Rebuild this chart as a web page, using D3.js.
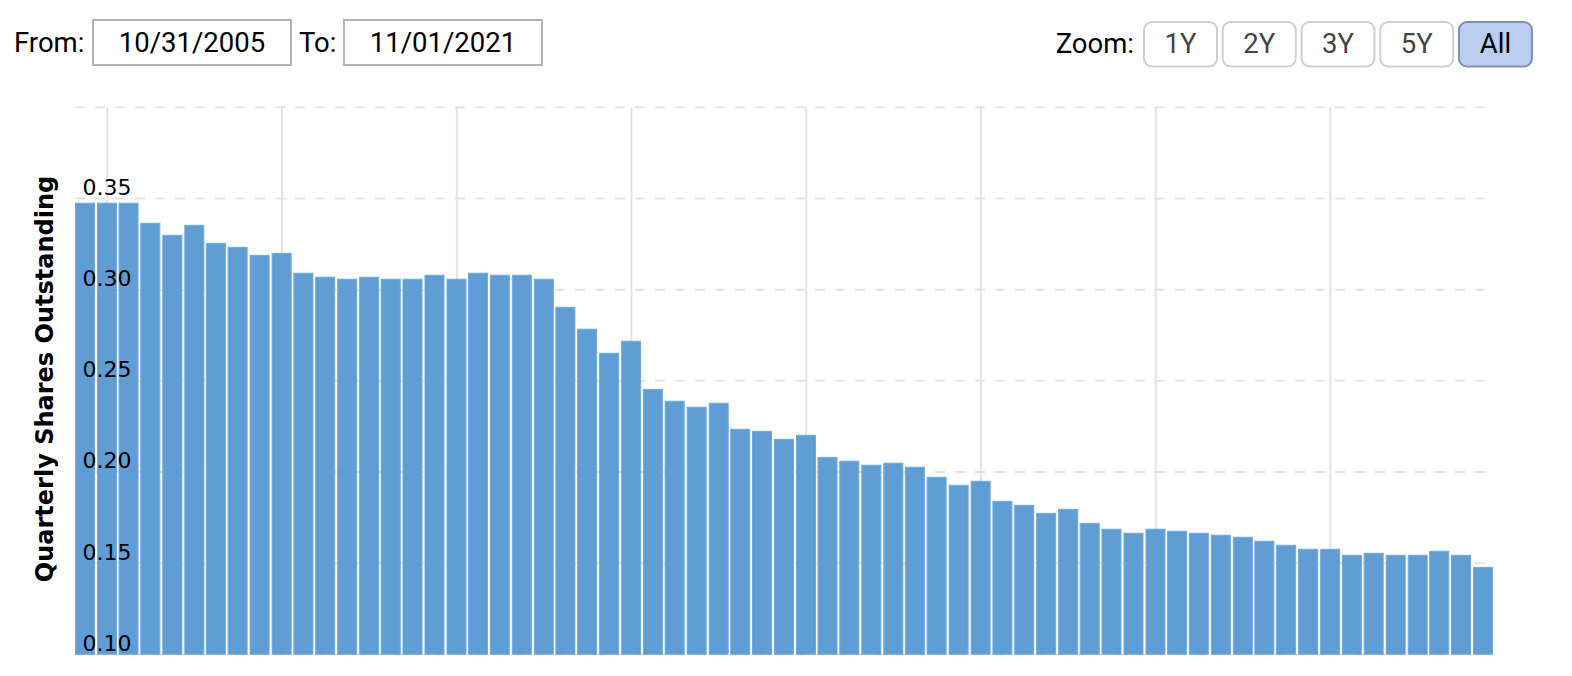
<!DOCTYPE html>
<html>
<head>
<meta charset="utf-8">
<script src="https://cdn.jsdelivr.net/npm/d3@7"></script>
<style>
  html, body { margin: 0; padding: 0; background: #fff; }
  svg { display: block; }
</style>
</head>
<body>
<svg id="chart" width="1572" height="676"></svg>
<script>
// ---- data ----
const quarters = [
  "2005-09-30","2005-12-31",
  "2006-03-31","2006-06-30","2006-09-30","2006-12-31",
  "2007-03-31","2007-06-30","2007-09-30","2007-12-31",
  "2008-03-31","2008-06-30","2008-09-30","2008-12-31",
  "2009-03-31","2009-06-30","2009-09-30","2009-12-31",
  "2010-03-31","2010-06-30","2010-09-30","2010-12-31",
  "2011-03-31","2011-06-30","2011-09-30","2011-12-31",
  "2012-03-31","2012-06-30","2012-09-30","2012-12-31",
  "2013-03-31","2013-06-30","2013-09-30","2013-12-31",
  "2014-03-31","2014-06-30","2014-09-30","2014-12-31",
  "2015-03-31","2015-06-30","2015-09-30","2015-12-31",
  "2016-03-31","2016-06-30","2016-09-30","2016-12-31",
  "2017-03-31","2017-06-30","2017-09-30","2017-12-31",
  "2018-03-31","2018-06-30","2018-09-30","2018-12-31",
  "2019-03-31","2019-06-30","2019-09-30","2019-12-31",
  "2020-03-31","2020-06-30","2020-09-30","2020-12-31",
  "2021-03-31","2021-06-30","2021-09-30"
];
const sharesOutstanding = [
  0.3474,0.3474,0.3474,0.3364,0.3298,0.3353,0.3254,0.3232,0.3188,0.3199,
  0.3090,0.3068,0.3057,0.3068,0.3057,0.3057,0.3079,0.3057,0.3090,0.3079,
  0.3079,0.3057,0.2903,0.2783,0.2651,0.2717,0.2453,0.2388,0.2355,0.2377,
  0.2234,0.2223,0.2179,0.2201,0.2080,0.2059,0.2037,0.2048,0.2026,0.1971,
  0.1927,0.1949,0.1839,0.1817,0.1773,0.1795,0.1718,0.1686,0.1664,0.1686,
  0.1675,0.1664,0.1653,0.1642,0.1620,0.1598,0.1576,0.1576,0.1543,0.1554,
  0.1543,0.1543,0.1565,0.1543,0.1477
];
const yTickLabels = [0.10, 0.15, 0.20, 0.25, 0.30, 0.35];
const yGridValues = [0.10, 0.15, 0.20, 0.25, 0.30, 0.35, 0.40];
const yTitle = "Quarterly Shares Outstanding";
const fromLabel = "From:", fromValue = "10/31/2005";
const toLabel = "To:", toValue = "11/01/2021";
const zoomLabel = "Zoom:";
const zoomButtons = ["1Y", "2Y", "3Y", "5Y", "All"];
const selectedZoom = "All";

// ---- drawing ----
const parse = d3.utcParse("%Y-%m-%d");
const data = quarters.map((q, i) => ({ date: parse(q), value: sharesOutstanding[i] }));

const svg = d3.select("#chart");
const plotTop = 107.3, plotBottom = 654.3, plotLeft = 75, plotRight = 1486;

const x = d3.scaleUtc()
  .domain(d3.extent(data, d => d.date))
  .range([85, 1483]);
const y = d3.scaleLinear()
  .domain([0.10, 0.40])
  .range([plotBottom, plotTop]);

// horizontal dashed grid
svg.append("g").selectAll("line")
  .data(yGridValues).join("line")
  .attr("x1", plotLeft).attr("x2", plotRight)
  .attr("y1", d => y(d)).attr("y2", d => y(d))
  .attr("stroke", "#e3e3e3").attr("stroke-width", 2)
  .attr("stroke-dasharray", "10,10");

// vertical grid (every 2 years)
const xTicks = x.ticks(d3.utcYear.every(2));
svg.append("g").selectAll("line")
  .data(xTicks).join("line")
  .attr("x1", d => x(d)).attr("x2", d => x(d))
  .attr("y1", plotTop).attr("y2", plotBottom)
  .attr("stroke", "#e3e3e3").attr("stroke-width", 2);

// bars
const barW = 19;
svg.append("g").selectAll("rect")
  .data(data).join("rect")
  .attr("x", d => x(d.date) - barW / 2)
  .attr("width", barW)
  .attr("y", d => y(d.value))
  .attr("height", d => y(0.10) - y(d.value))
  .attr("fill", "#5f9dd4")
  .attr("stroke", "#6eaade")
  .attr("stroke-width", 1);

// y tick labels (over bars)
svg.append("g").selectAll("text")
  .data(yTickLabels).join("text")
  .attr("x", 82.5)
  .attr("y", d => y(d) - 3.5)
  .attr("font-family", "'DejaVu Sans', Verdana, sans-serif")
  .attr("font-size", "22px")
  .attr("fill", "#000")
  .text(d => d3.format(".2f")(d));

// y title
svg.append("text")
  .attr("transform", "translate(53,379) rotate(-90)")
  .attr("text-anchor", "middle")
  .attr("font-family", "'DejaVu Sans', Verdana, sans-serif")
  .attr("font-weight", "bold")
  .attr("font-size", "24px")
  .attr("fill", "#000")
  .text(yTitle);

// header: range inputs
const hdrFont = "Roboto, 'Liberation Sans', Arial, sans-serif";
const header = svg.append("g");
header.append("text").attr("x", 14).attr("y", 52)
  .attr("font-family", hdrFont).attr("font-size", "27.5px").attr("fill", "#000")
  .text(fromLabel);
header.append("rect").attr("x", 93).attr("y", 20).attr("width", 198).attr("height", 45)
  .attr("fill", "#fff").attr("stroke", "#b3b3b3").attr("stroke-width", 2);
header.append("text").attr("x", 192).attr("y", 52).attr("text-anchor", "middle")
  .attr("font-family", hdrFont).attr("font-size", "27.5px").attr("fill", "#000")
  .text(fromValue);
header.append("text").attr("x", 299).attr("y", 52)
  .attr("font-family", hdrFont).attr("font-size", "27.5px").attr("fill", "#000")
  .text(toLabel);
header.append("rect").attr("x", 344).attr("y", 20).attr("width", 198).attr("height", 45)
  .attr("fill", "#fff").attr("stroke", "#b3b3b3").attr("stroke-width", 2);
header.append("text").attr("x", 443).attr("y", 52).attr("text-anchor", "middle")
  .attr("font-family", hdrFont).attr("font-size", "27.5px").attr("fill", "#000")
  .text(toValue);

// zoom buttons
header.append("text").attr("x", 1134).attr("y", 53).attr("text-anchor", "end")
  .attr("font-family", hdrFont).attr("font-size", "27.5px").attr("fill", "#000")
  .text(zoomLabel);
const btnX = d3.scaleBand().domain(zoomButtons).range([1144, 1533]).paddingInner(0.06).paddingOuter(0);
const btn = header.append("g").selectAll("g").data(zoomButtons).join("g")
  .attr("transform", d => `translate(${btnX(d)},22)`);
btn.append("rect")
  .attr("x", 0).attr("y", 0).attr("width", 73).attr("height", 44.5)
  .attr("rx", 8).attr("ry", 8)
  .attr("fill", d => d === selectedZoom ? "#bbcef1" : "#fff")
  .attr("stroke", d => d === selectedZoom ? "#7d91b3" : "#cfcfcf")
  .attr("stroke-width", 2);
btn.append("text")
  .attr("x", 36.5).attr("y", 31).attr("text-anchor", "middle")
  .attr("font-family", hdrFont).attr("font-size", "27.5px")
  .attr("fill", d => d === selectedZoom ? "#000" : "#444")
  .text(d => d);
</script>
</body>
</html>
